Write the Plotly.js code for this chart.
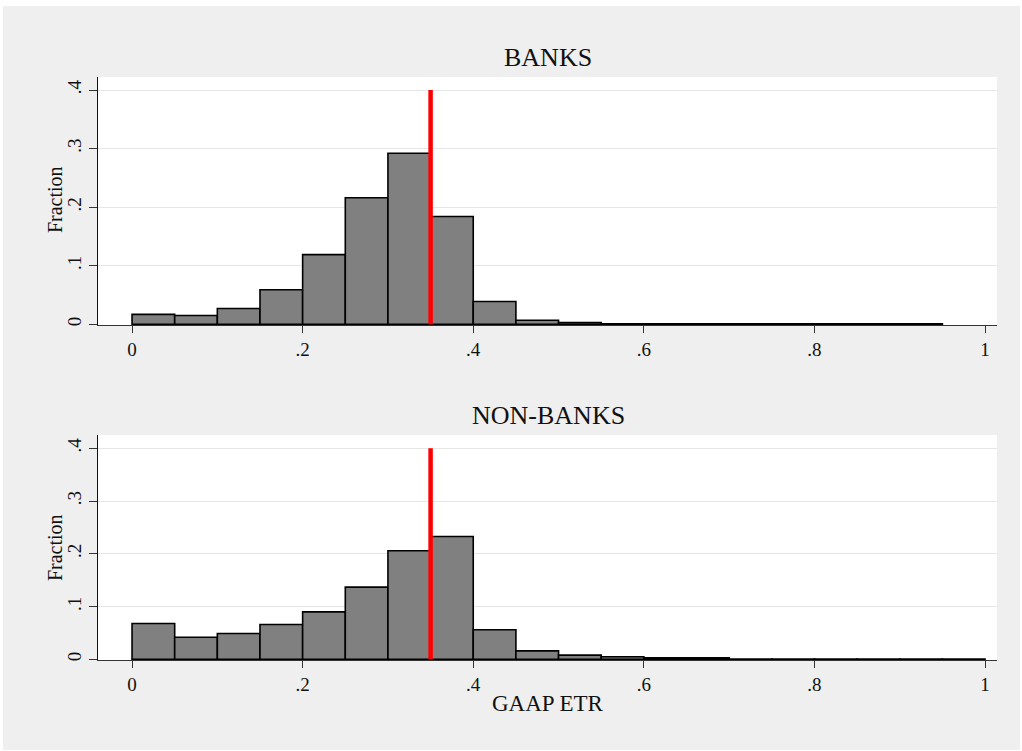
<!DOCTYPE html>
<html>
<head>
<meta charset="utf-8">
<script src="https://cdn.plot.ly/plotly-3.0.1.min.js"></script>
<style>
  html, body { margin: 0; padding: 0; background: #ffffff; }
  #chart { position: absolute; left: 3px; top: 6px; width: 1017px; height: 744px; }
</style>
</head>
<body>
<div id="chart"></div>
<script>
// Histogram bins (left edges), bin width 0.05
const binWidth = 0.05;
const banksBinLeft = [0, 0.05, 0.10, 0.15, 0.20, 0.25, 0.30, 0.35, 0.40, 0.45, 0.50, 0.55, 0.60, 0.65, 0.70, 0.75, 0.80, 0.85, 0.90];
const banksFraction = [0.017, 0.015, 0.027, 0.059, 0.119, 0.216, 0.292, 0.184, 0.039, 0.007, 0.003, 0.001, 0.001, 0.001, 0.001, 0.001, 0.001, 0.001, 0.001];

const nonBanksBinLeft = [0, 0.05, 0.10, 0.15, 0.20, 0.25, 0.30, 0.35, 0.40, 0.45, 0.50, 0.55, 0.60, 0.65, 0.70, 0.75, 0.80, 0.85, 0.90, 0.95];
const nonBanksFraction = [0.068, 0.042, 0.049, 0.066, 0.090, 0.137, 0.206, 0.233, 0.056, 0.016, 0.008, 0.005, 0.003, 0.003, 0.0006, 0.0006, 0.0006, 0.0006, 0.0006, 0.0006];

// Reference (statutory rate) line
const refLineX = [0.35, 0.35];
const refLineY = [0, 0.4];

const xTickVals = [0, 0.2, 0.4, 0.6, 0.8, 1];
const xTickText = ["0", ".2", ".4", ".6", ".8", "1"];
const yTickVals = [0, 0.1, 0.2, 0.3, 0.4];
const yTickText = ["0", ".1", ".2", ".3", ".4"];

const centers = arr => arr.map(v => v + binWidth / 2);
const FONT = "Liberation Serif, Times New Roman, serif";

const barStyle = {
  type: "bar",
  width: binWidth,
  marker: { color: "#808080", line: { color: "#000000", width: 1.6 } },
  hoverinfo: "x+y",
  showlegend: false
};

const traces = [
  Object.assign({}, barStyle, { x: centers(banksBinLeft), y: banksFraction, xaxis: "x", yaxis: "y" }),
  { type: "scatter", mode: "lines", x: refLineX, y: refLineY, xaxis: "x", yaxis: "y",
    line: { color: "#ff0000", width: 4.5 }, showlegend: false, hoverinfo: "skip" },
  Object.assign({}, barStyle, { x: centers(nonBanksBinLeft), y: nonBanksFraction, xaxis: "x2", yaxis: "y2" }),
  { type: "scatter", mode: "lines", x: refLineX, y: refLineY, xaxis: "x2", yaxis: "y2",
    line: { color: "#ff0000", width: 4.5 }, showlegend: false, hoverinfo: "skip" }
];

const xAxisBase = {
  range: [-0.0399, 1.014],
  tickvals: xTickVals, ticktext: xTickText,
  ticks: "outside", ticklen: 7, tickwidth: 1, tickcolor: "#333333",
  showline: true, linecolor: "#333333", linewidth: 1,
  showgrid: false, zeroline: false,
  tickfont: { family: FONT, size: 19, color: "#111111" },
  fixedrange: true
};
const yAxisBase = {
  tickvals: yTickVals, ticktext: yTickText,
  ticks: "outside", ticklen: 8, tickwidth: 1, tickcolor: "#333333",
  tickangle: -90,
  showline: true, linecolor: "#111111", linewidth: 1,
  showgrid: true, gridcolor: "#e6e6e6", gridwidth: 1,
  zeroline: false,
  tickfont: { family: FONT, size: 19, color: "#111111" },
  fixedrange: true
};

const layout = {
  width: 1017, height: 744,
  paper_bgcolor: "#efefef",
  plot_bgcolor: "#ffffff",
  margin: { l: 95, r: 23, t: 71, b: 90 },
  bargap: 0,
  font: { family: FONT, color: "#111111" },
  xaxis: Object.assign({}, xAxisBase, { domain: [0, 1], anchor: "y" }),
  yaxis: Object.assign({}, yAxisBase, { domain: [0.5746, 1], anchor: "x", range: [-0.0012, 0.4222] }),
  xaxis2: Object.assign({}, xAxisBase, { domain: [0, 1], anchor: "y2" }),
  yaxis2: Object.assign({}, yAxisBase, { domain: [0, 0.3859], anchor: "x2", range: [-0.0012, 0.4252] }),
  annotations: [
    { text: "BANKS", xref: "paper", yref: "paper", x: 0.5006, y: 1.0326, xanchor: "center", yanchor: "middle",
      showarrow: false, font: { family: FONT, size: 26, color: "#111111" } },
    { text: "NON-BANKS", xref: "paper", yref: "paper", x: 0.5006, y: 0.4202, xanchor: "center", yanchor: "middle",
      showarrow: false, font: { family: FONT, size: 26, color: "#111111" } },
    { text: "GAAP ETR", xref: "paper", yref: "paper", x: 0.5006, y: -0.0738, xanchor: "center", yanchor: "middle",
      showarrow: false, font: { family: FONT, size: 23, color: "#111111" } },
    { text: "Fraction", xref: "paper", yref: "paper", x: -0.0478, y: 0.789, xanchor: "center", yanchor: "middle",
      textangle: -90, showarrow: false, font: { family: FONT, size: 20, color: "#111111" } },
    { text: "Fraction", xref: "paper", yref: "paper", x: -0.0478, y: 0.192, xanchor: "center", yanchor: "middle",
      textangle: -90, showarrow: false, font: { family: FONT, size: 20, color: "#111111" } }
  ]
};

Plotly.newPlot("chart", traces, layout, { displayModeBar: false, staticPlot: true });
</script>
</body>
</html>
